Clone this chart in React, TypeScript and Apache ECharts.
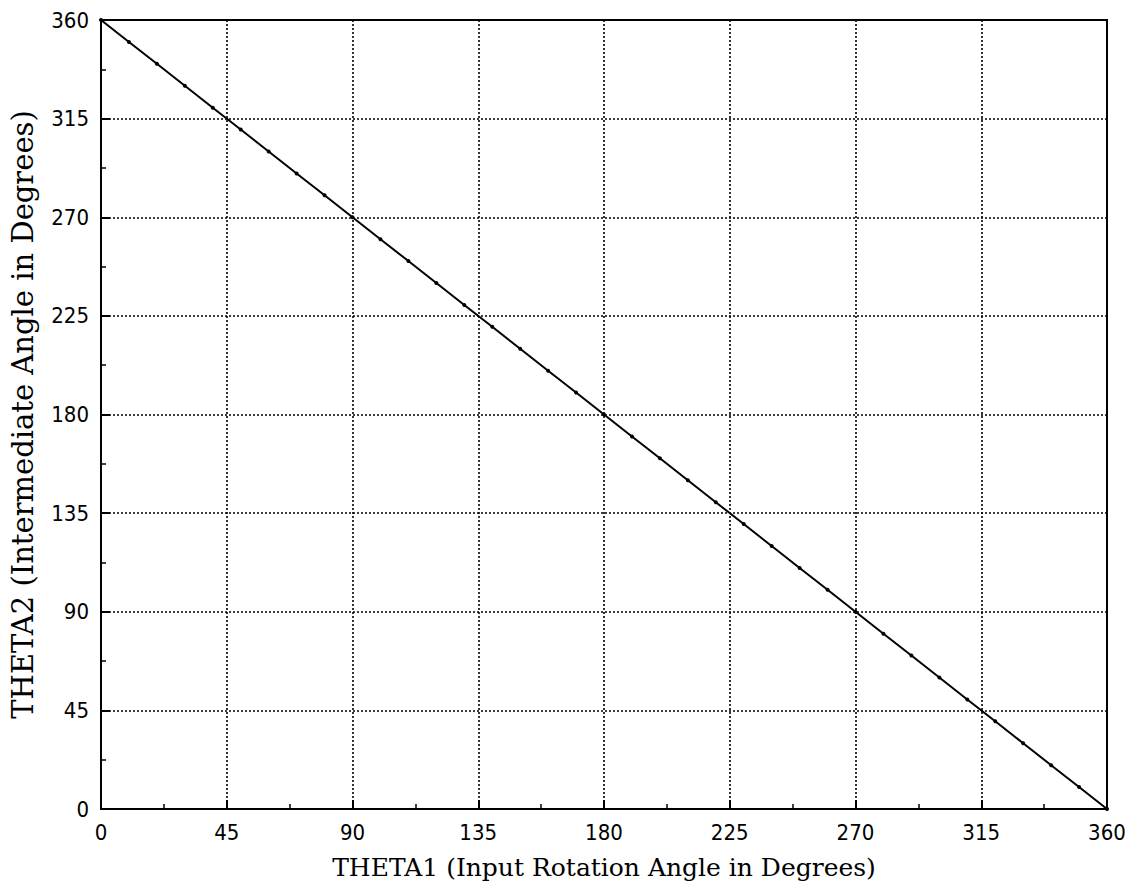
import React, { useEffect, useRef } from "react";
import * as echarts from "echarts";

const theta1: number[] = [0, 10, 20, 30, 40, 50, 60, 70, 80, 90, 100, 110, 120, 130, 140, 150, 160, 170, 180, 190, 200, 210, 220, 230, 240, 250, 260, 270, 280, 290, 300, 310, 320, 330, 340, 350, 360];
const theta2: number[] = [360, 350, 340, 330, 320, 310, 300, 290, 280, 270, 260, 250, 240, 230, 220, 210, 200, 190, 180, 170, 160, 150, 140, 130, 120, 110, 100, 90, 80, 70, 60, 50, 40, 30, 20, 10, 0];

const xTitle = "THETA1 (Input Rotation Angle in Degrees)";
const yTitle = "THETA2 (Intermediate Angle in Degrees)";

export default function App() {
  const ref = useRef<HTMLDivElement>(null);
  useEffect(() => {
    if (!ref.current) return;
    const chart = echarts.init(ref.current, null, { renderer: "svg" });
    const titleFont = "'DejaVu Serif', 'Liberation Serif', serif";
    const labelFont = "'DejaVu Sans Condensed', 'DejaVu Sans', sans-serif";
    const axisCommon = {
      min: 0,
      max: 360,
      interval: 45,
      axisLine: { show: true, lineStyle: { color: "#000", width: 2 } },
      axisTick: { show: true, inside: true, length: 9, lineStyle: { color: "#000", width: 2 } },
      minorTick: { show: true, splitNumber: 2, length: 5, lineStyle: { color: "#000", width: 1.5 } },
      splitLine: { show: true, lineStyle: { color: "#000", type: [2, 2] as any, width: 1.6 } },
      axisLabel: { color: "#000", fontSize: 22, fontFamily: labelFont },
      nameTextStyle: { color: "#000", fontSize: 25, fontFamily: titleFont },
    };
    chart.setOption({
      animation: false,
      backgroundColor: "#fff",
      grid: { left: 94, right: 23, top: 20, bottom: 83, show: true, borderColor: "#000", borderWidth: 2, backgroundColor: "transparent" },
      xAxis: {
        type: "value",
        ...axisCommon,
        name: xTitle,
        nameLocation: "middle",
        nameGap: 46,
        axisLabel: { ...axisCommon.axisLabel, margin: 12 },
      },
      yAxis: {
        type: "value",
        ...axisCommon,
        name: yTitle,
        nameLocation: "middle",
        nameGap: 64,
        nameTextStyle: { ...axisCommon.nameTextStyle, fontSize: 29 },
        axisLabel: { ...axisCommon.axisLabel, margin: 12 },
      },
      series: [
        {
          type: "line",
          data: theta1.map((x, i) => [x, theta2[i]]),
          lineStyle: { color: "#000", width: 2 },
          itemStyle: { color: "#000" },
          symbol: "circle",
          symbolSize: 4,
          showSymbol: true,
        },
      ],
    });
    return () => chart.dispose();
  }, []);
  return <div ref={ref} style={{ width: 1130, height: 892, position: "absolute", left: 0, top: 0 }} />;
}
